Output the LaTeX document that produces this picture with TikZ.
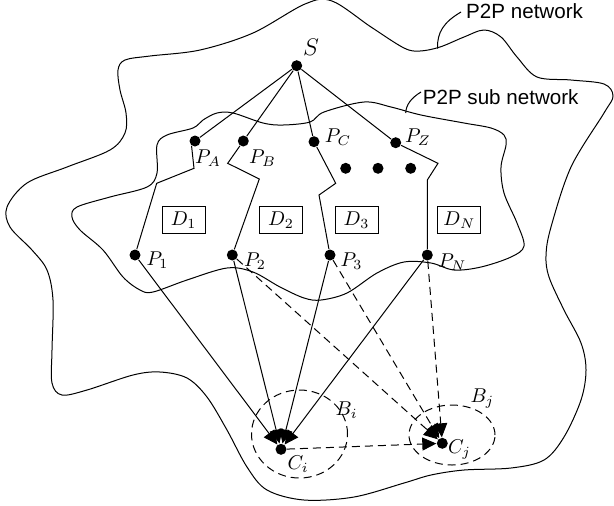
\documentclass[tikz,border=0pt]{standalone}
\usepackage{fontspec}
\newfontfamily\labelsans{Liberation Sans}
\usetikzlibrary{arrows.meta,shapes.geometric}
\begin{document}
\begin{tikzpicture}[x=0.5pt,y=-0.5pt,line width=0.5pt,
  dot/.style={circle,fill,inner sep=0pt,minimum size=5.5pt},
  dbox/.style={draw,line width=0.4pt,inner sep=0pt,minimum width=21.5pt,minimum height=13.5pt},
  lab/.style={inner sep=0pt},
  net/.style={font=\labelsans\fontsize{10.3}{12}\selectfont,inner sep=0pt,anchor=west},
  tip/.style={-{Triangle[length=7pt,width=6.5pt]}},
  dsh/.style={dash pattern=on 4pt off 2.5pt},
  area/.style={draw,dsh,ellipse,inner sep=0pt}]
\useasboundingbox (0,0) rectangle (614,505);

% outer network
\draw plot[smooth cycle,tension=0.55] coordinates {
 (125,60) (150,56) (200,50) (253,33) (305,4) (332,1) (371,27) (404,48) (420,51)
 (440,47) (464,37) (484,30) (501,37) (517,57) (537,77) (571,80) (604,84) (613,96)
 (604,113) (571,167) (551,227) (546,255) (549,277) (564,310) (581,343) (586,370)
 (581,400) (564,437) (544,460) (511,468) (464,470) (431,475) (404,483) (354,497)
 (304,500) (267,490) (247,467) (227,430) (207,397) (187,378) (160,372) (133,375)
 (87,390) (62,395) (52,383) (52,350) (53,300) (47,270) (32,250) (10,227) (7,207)
 (27,183) (67,167) (110,150) (125,133) (126,113) (120,90) (118,70)};

% inner sub network
\draw plot[smooth cycle,tension=0.55] coordinates {
 (167,135) (193,128) (203,120) (217,113) (233,113) (263,123) (283,125) (310,122)
 (324,112) (364,102) (391,107) (421,115) (464,123) (491,128) (504,135) (506,145)
 (501,167) (504,193) (517,223) (524,246) (511,257) (481,267) (454,270) (431,263)
 (404,262) (377,273) (347,293) (321,300) (304,298) (280,287) (253,272) (227,268)
 (187,280) (153,292) (140,290) (123,277) (103,250) (80,230) (72,217) (77,207)
 (110,197) (147,187) (157,173) (157,145)};

% texts of the networks
\node[net] (tnet) at (465.7,11) {P2P network};
\node[net] (tsub) at (422.3,97.5) {P2P sub network};
\coordinate (ln0) at (461,12);
\coordinate (ln1) at (437.5,48.5);
\draw (ln0) .. controls (444,22) and (437,32) .. (ln1);
\coordinate (ls0) at (421,92);
\coordinate (ls1) at (405.7,113);
\draw (ls0) .. controls (411,98) and (406,105) .. (ls1);

% peers
\node[dot] (S) at (296.7,65.7) {};
\node[dot] (PA) at (195,141) {};
\node[dot] (PB) at (243.3,141) {};
\node[dot] (PC) at (314,141.7) {};
\node[dot] (PZ) at (395.7,142.7) {};
\node[dot] (d1) at (345.7,168.3) {};
\node[dot] (d2) at (378,168.3) {};
\node[dot] (d3) at (410.7,168.3) {};
\node[dot] (P1) at (135,255) {};
\node[dot] (P2) at (232.3,255) {};
\node[dot] (P3) at (330,255) {};
\node[dot] (PN) at (427.3,255) {};
\node[dot] (Ci) at (281,449.3) {};
\node[dot] (Cj) at (442.3,443.3) {};

% labels
\node[lab,font=\large] (lS) at (311,47) {$S$};
\node[lab] (lPA) at (208,158) {$P_A$};
\node[lab] (lPB) at (262.5,158) {$P_B$};
\node[lab] (lPC) at (338,137) {$P_C$};
\node[lab] (lPZ) at (418,137) {$P_Z$};
\node[lab] (lP1) at (157.5,260) {$P_1$};
\node[lab] (lP2) at (255,261) {$P_2$};
\node[lab] (lP3) at (351.5,261) {$P_3$};
\node[lab] (lPN) at (452.3,262) {$P_N$};
\node[lab] (lCi) at (298,464) {$C_i$};
\node[lab] (lCj) at (459.5,450) {$C_j$};
\node[lab] (lBi) at (346.5,410) {$B_i$};
\node[lab] (lBj) at (482.3,399) {$B_j$};

% data boxes
\node[dbox] (D1) at (183.7,219.7) {$D_1$};
\node[dbox] (D2) at (281,219.7) {$D_2$};
\node[dbox] (D3) at (356.5,220) {$D_3$};
\node[dbox] (DN) at (459.3,220) {$D_N$};

% areas
\node[area,minimum width=48pt,minimum height=44pt] (Bi) at (299.5,434) {};
\node[area,minimum width=43pt,minimum height=30pt] (Bj) at (452,435) {};

% source to peers
\draw (S) -- (PA);
\draw (S) -- (PB);
\draw (S) -- (PC);
\draw (S) -- (PZ);

% zigzag paths
\coordinate (a1) at (194,168.3);
\coordinate (a2) at (156.7,183.3);
\coordinate (b1) at (227.7,163.3);
\coordinate (b2) at (259.3,179);
\coordinate (c1) at (335.7,183.3);
\coordinate (c2) at (319,195);
\coordinate (z1) at (438,163.3);
\coordinate (z2) at (427.3,180);
\draw (PA.235) -- (a1) -- (a2) -- (P1);
\draw (PB) -- (b1) -- (b2) -- (P2);
\draw (PC) -- (c1) -- (c2) -- (P3);
\draw (PZ) -- (z1) -- (z2) -- (PN);

% to the clients
\draw[tip] (P1) -- (Ci);
\draw[tip] (P2) -- (Ci);
\draw[tip] (P3) -- (Ci);
\draw[tip] (PN) -- (Ci);
\draw[tip,dsh] (P2) -- (Cj);
\draw[tip,dsh] (P3) -- (Cj);
\draw[tip,dsh] (PN) -- (Cj);
\draw[tip,dsh] (Ci) -- (Cj);
\end{tikzpicture}
\end{document}
